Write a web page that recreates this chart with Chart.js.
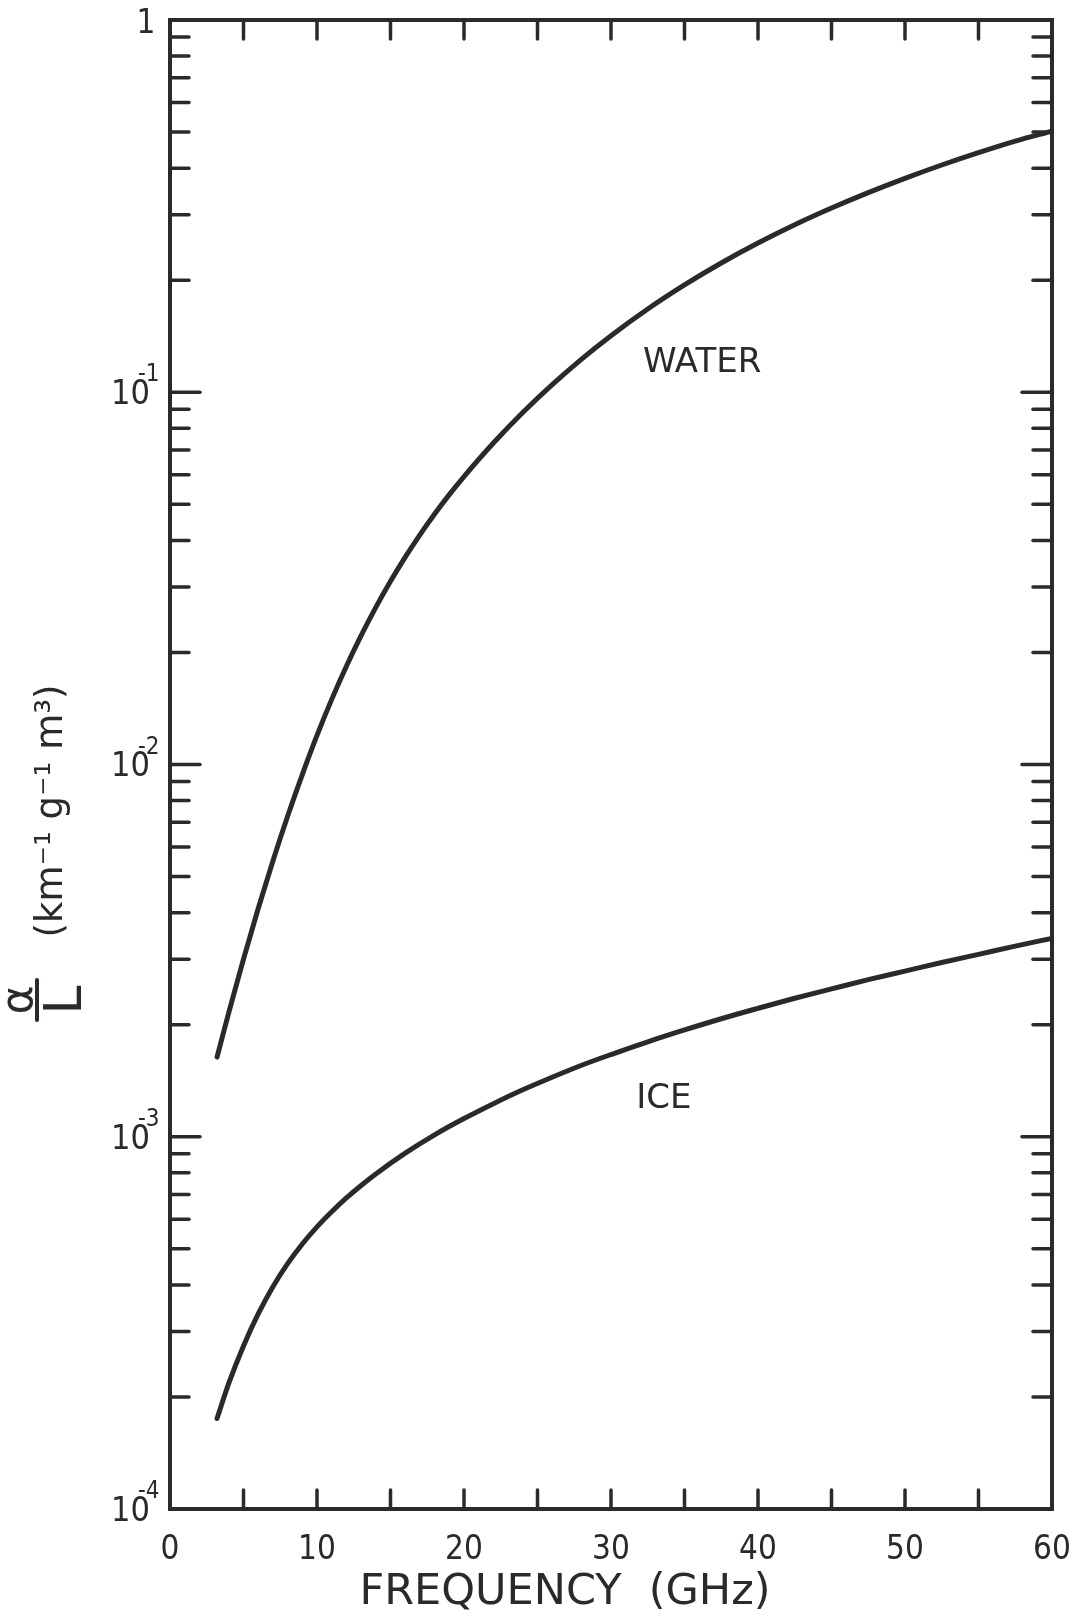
<!DOCTYPE html>
<html>
<head>
<meta charset="utf-8">
<title>Attenuation of water and ice</title>
<script src="https://cdn.jsdelivr.net/npm/chart.js@4/dist/chart.umd.min.js"></script>
<style>
  html, body { margin: 0; padding: 0; background: #ffffff; }
  #wrap { width: 1072px; height: 1624px; }
</style>
</head>
<body>
<div id="wrap"><canvas id="attenChart" width="1072" height="1624"></canvas></div>
<script>
// values (frequency in GHz, alpha/L in km^-1 g^-1 m^3)
const waterFreq = [3.2, 4, 5, 6, 7, 8, 9, 10, 11, 12, 13, 14, 15, 16, 17, 18, 19, 20, 22, 24, 26, 28, 30, 32.5, 35, 37.5, 40, 42.5, 45, 47.5, 50, 52.5, 55, 57.5, 60];
const waterAtten = [0.001637, 0.002158, 0.003000, 0.004102, 0.005508, 0.007261, 0.009397, 0.01197, 0.01496, 0.01837, 0.02218, 0.02642, 0.03105, 0.03606, 0.04140, 0.04710, 0.05309, 0.05936, 0.07303, 0.08820, 0.1048, 0.1228, 0.1419, 0.1674, 0.1943, 0.2225, 0.2517, 0.2818, 0.3125, 0.3438, 0.3756, 0.4078, 0.4402, 0.4728, 0.5030];

const iceFreq = [3.2, 4, 5, 6, 7, 8, 9, 10, 11, 12, 13, 14, 16, 18, 20, 22, 24, 26, 28, 30, 32.5, 35, 37.5, 40, 42.5, 45, 47.5, 50, 52.5, 55, 57.5, 60];
const iceAtten = [0.0001750, 0.0002178, 0.0002742, 0.0003342, 0.0003954, 0.0004560, 0.0005152, 0.0005728, 0.0006288, 0.0006847, 0.0007396, 0.0007943, 0.0009036, 0.001012, 0.001119, 0.001227, 0.001337, 0.001445, 0.001556, 0.001663, 0.001799, 0.001936, 0.002075, 0.002213, 0.002355, 0.002495, 0.002642, 0.002786, 0.002938, 0.003090, 0.003251, 0.003412];

const xTicks = [0, 5, 10, 15, 20, 25, 30, 35, 40, 45, 50, 55, 60];
const yMajorTicks = [1e-4, 1e-3, 1e-2, 1e-1, 1];
const yTickExponents = ['-4', '-3', '-2', '-1', ''];

const INK = '#2b2a26';
const FONT = '"DejaVu Sans", sans-serif';
const NUM_FONT = '"DejaVu Sans Condensed", "DejaVu Sans", sans-serif';

// minor ticks 2..9 in every decade
const yAllTicks = [];
yMajorTicks.forEach((m, i) => {
  yAllTicks.push(m);
  if (i < yMajorTicks.length - 1) {
    for (let k = 2; k <= 9; k++) yAllTicks.push(m * k);
  }
});

function isMajor(v) {
  const e = Math.log10(v);
  return Math.abs(e - Math.round(e)) < 1e-6;
}

const toPoints = (xs, ys) => xs.map((f, i) => ({ x: f, y: ys[i] }));

const noPad = scale => {
  scale.paddingLeft = 0;
  scale.paddingRight = 0;
  scale.paddingTop = 0;
  scale.paddingBottom = 0;
};

const inkPlugin = {
  id: 'ink',
  afterDraw(chart) {
    const { ctx, chartArea: a, scales: { x, y } } = chart;
    const line = (x1, y1, x2, y2) => {
      ctx.beginPath();
      ctx.moveTo(x1, y1);
      ctx.lineTo(x2, y2);
      ctx.stroke();
    };

    ctx.save();
    ctx.strokeStyle = INK;
    ctx.fillStyle = INK;
    ctx.lineCap = 'round';

    // frame
    ctx.lineWidth = 4;
    ctx.strokeRect(a.left, a.top, a.right - a.left, a.bottom - a.top);

    // inward ticks on all four sides
    ctx.lineWidth = 3.5;
    x.ticks.forEach(t => {
      if (t.value <= x.min || t.value >= x.max) return;
      const px = x.getPixelForValue(t.value);
      line(px, a.bottom, px, a.bottom - 19);
      line(px, a.top, px, a.top + 19);
    });
    y.ticks.forEach(t => {
      if (t.value <= y.min || t.value >= y.max) return;
      const py = y.getPixelForValue(t.value);
      const len = isMajor(t.value) ? 30 : 19;
      line(a.left, py, a.left + len, py);
      line(a.right, py, a.right - len, py);
    });

    // y tick labels: 10 with a raised exponent
    yMajorTicks.forEach((v, i) => {
      const py = y.getPixelForValue(v);
      const ex = yTickExponents[i];
      ctx.textBaseline = 'middle';
      if (ex === '') {
        ctx.font = '33px ' + NUM_FONT;
        ctx.textAlign = 'center';
        ctx.fillText('1', a.left - 24, py + 4);
        return;
      }
      ctx.font = '34px ' + NUM_FONT;
      ctx.textAlign = 'right';
      ctx.fillText('10', a.left - 20, py + 3);
      ctx.font = '24px ' + NUM_FONT;
      ctx.textAlign = 'left';
      ctx.fillText(ex, a.left - 32, py - 17);
    });

    // curve labels
    ctx.font = '34px ' + FONT;
    ctx.textAlign = 'center';
    ctx.textBaseline = 'middle';
    ctx.fillText('WATER', x.getPixelForValue(36.2), y.getPixelForValue(0.120));
    ctx.fillText('ICE', x.getPixelForValue(33.6), y.getPixelForValue(0.00126));

    // x title
    ctx.font = '43px ' + FONT;
    ctx.fillText('FREQUENCY  (GHz)', 565, 1593);

    // y title, rotated
    ctx.save();
    ctx.translate(45, 1000);
    ctx.rotate(-Math.PI / 2);
    ctx.font = '44px ' + FONT;
    ctx.textBaseline = 'middle';
    ctx.fillText('\u03B1', 0, -24);
    ctx.lineWidth = 4;
    line(-20, -8, 20, -8);
    ctx.font = '52px ' + FONT;
    ctx.textBaseline = 'alphabetic';
    ctx.fillText('L', 0, 36);
    ctx.restore();

    ctx.save();
    ctx.translate(52, 811);
    ctx.rotate(-Math.PI / 2);
    ctx.font = '37px ' + FONT;
    ctx.textAlign = 'center';
    ctx.textBaseline = 'middle';
    ctx.fillText('(km\u207B\u00B9 g\u207B\u00B9 m\u00B3)', 0, 0);
    ctx.restore();

    ctx.restore();
  }
};

const ctx = document.getElementById('attenChart').getContext('2d');

const chart = new Chart(ctx, {
  type: 'scatter',
  data: {
    datasets: [
      {
        label: 'WATER',
        data: toPoints(waterFreq, waterAtten),
        showLine: true,
        borderColor: INK,
        borderWidth: 5,
        pointRadius: 0,
        cubicInterpolationMode: 'monotone',
        borderCapStyle: 'round'
      },
      {
        label: 'ICE',
        data: toPoints(iceFreq, iceAtten),
        showLine: true,
        borderColor: INK,
        borderWidth: 5,
        pointRadius: 0,
        cubicInterpolationMode: 'monotone',
        borderCapStyle: 'round'
      }
    ]
  },
  options: {
    responsive: false,
    animation: false,
    devicePixelRatio: 1,
    layout: { padding: { top: 20, right: 20, left: 0, bottom: 0 } },
    plugins: {
      legend: { display: false },
      tooltip: { enabled: false }
    },
    scales: {
      x: {
        type: 'linear',
        min: 0,
        max: 60,
        afterBuildTicks: scale => { scale.ticks = xTicks.map(v => ({ value: v })); },
        afterFit: scale => { scale.height = 115; noPad(scale); },
        grid: { display: false, drawTicks: false },
        border: { display: false },
        ticks: {
          autoSkip: false,
          maxRotation: 0,
          padding: 22,
          color: INK,
          font: { family: NUM_FONT, size: 33 },
          callback: v => (v % 10 === 0 ? String(v) : '')
        }
      },
      y: {
        type: 'logarithmic',
        min: 1e-4,
        max: 1,
        afterBuildTicks: scale => { scale.ticks = yAllTicks.map(v => ({ value: v })); },
        afterFit: scale => { scale.width = 170; noPad(scale); },
        grid: { display: false, drawTicks: false },
        border: { display: false },
        ticks: {
          display: false
        }
      }
    }
  },
  plugins: [inkPlugin]
});
</script>
</body>
</html>
